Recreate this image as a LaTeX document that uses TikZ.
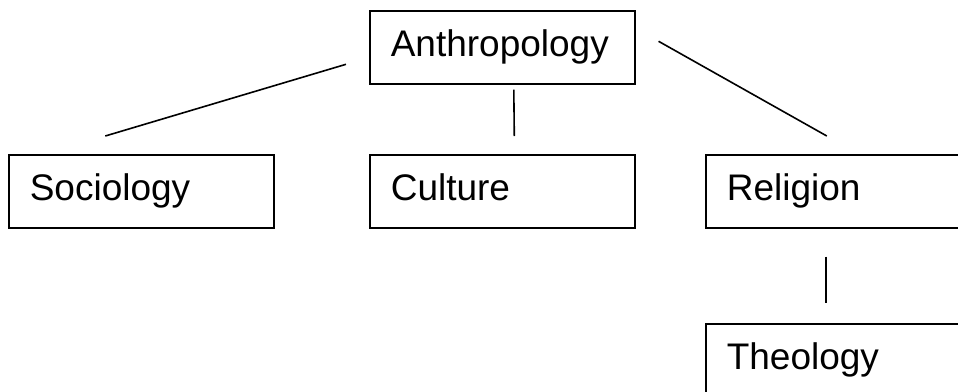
\documentclass[tikz,border=0pt]{standalone}
\usepackage{fontspec}
\setmainfont{Liberation Sans}
\usepackage{tikz}

\tikzset{
  topic/.style={draw, line width=1.6pt, rectangle, anchor=north west,
    minimum height=73pt, text width=223pt, inner xsep=21pt, align=left,
    text height=27pt, text depth=8pt,
    font=\fontsize{37}{40}\selectfont},
  link/.style={line width=1.6pt}
}

\begin{document}
\begin{tikzpicture}[x=1pt,y=-1pt]
    \clip (0,0) rectangle (958,391);
    \fill[white] (0,0) rectangle (958,391);
    \node[topic] (anth) at (369,10) {Anthropology};
    \node[topic] (soc) at (8,154) {Sociology};
    \node[topic] (cult) at (369,154) {Culture};
    \node[topic] (rel) at (705,154) {Religion};
    \node[topic] (theo) at (705,323) {Theology};
    \draw[link] ([shift={(-36,-18)}]soc.north) -- ([shift={(-23,17)}]anth.west);
    \draw[link] ([shift={(11.5,5)}]anth.south) -- ([shift={(12,-18)}]cult.north);
    \draw[link] ([shift={(23,-6)}]anth.east) -- ([shift={(-11.5,-18)}]rel.north);
    \draw[link] ([shift={(-12.5,28)}]rel.south) -- ([shift={(-12.5,-20)}]theo.north);
  \end{tikzpicture}
\end{document}
